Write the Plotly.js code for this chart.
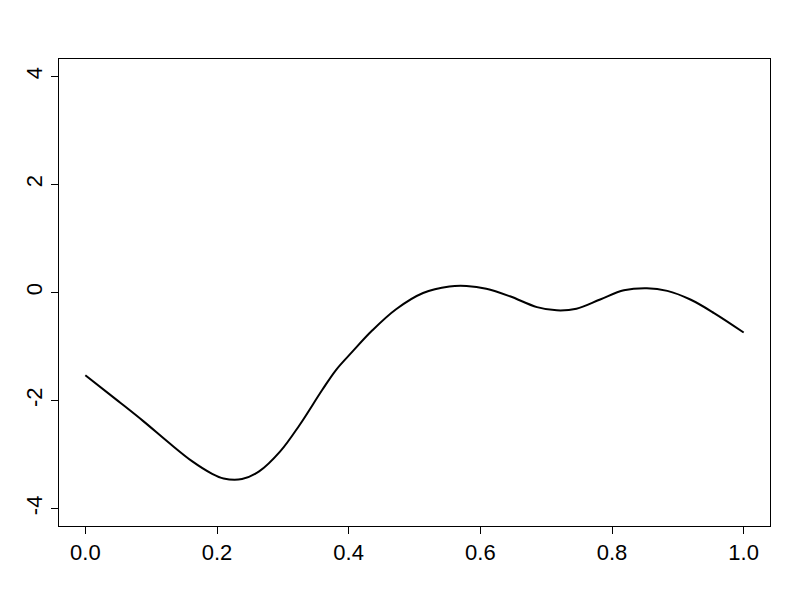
<!DOCTYPE html>
<html>
<head>
<meta charset="utf-8">
<script src="https://cdn.plot.ly/plotly-3.0.1.min.js"></script>
<style>html,body{margin:0;padding:0;background:#fff;}</style>
</head>
<body>
<div id="chart" style="width:800px;height:600px;"></div>
<script>
const xs = [0.0, 0.05, 0.088, 0.127, 0.162, 0.192, 0.21, 0.238, 0.264, 0.296, 0.325, 0.36, 0.381, 0.406, 0.436, 0.472, 0.513, 0.553, 0.579, 0.609, 0.645, 0.686, 0.716, 0.746, 0.782, 0.818, 0.853, 0.884, 0.919, 0.955, 1.0];
const ys = [-1.53, -2.01, -2.38, -2.78, -3.12, -3.35, -3.44, -3.45, -3.31, -2.94, -2.46, -1.80, -1.43, -1.09, -0.70, -0.31, -0.01, 0.11, 0.12, 0.07, -0.07, -0.27, -0.33, -0.30, -0.13, 0.04, 0.08, 0.03, -0.13, -0.38, -0.74];
const xTicks = [0, 0.2, 0.4, 0.6, 0.8, 1.0];
const xTickText = ["0.0", "0.2", "0.4", "0.6", "0.8", "1.0"];
const yTicks = [-4, -2, 0, 2, 4];
const yTickText = ["-4", "-2", "0", "2", "4"];

const trace = {
  x: xs, y: ys, type: 'scatter', mode: 'lines',
  line: {color: '#000', width: 2, shape: 'spline', smoothing: 1},
  hoverinfo: 'skip'
};
const axisCommon = {
  showgrid: false, zeroline: false, showline: true, mirror: true,
  linecolor: '#000', linewidth: 1, ticks: 'outside', ticklen: 7,
  tickcolor: '#000', tickwidth: 1,
  tickfont: {family: 'Liberation Sans, Arial, sans-serif', size: 22, color: '#000'}
};
const layout = {
  width: 800, height: 600,
  margin: {l: 59, r: 30, t: 59, b: 74, pad: 0},
  paper_bgcolor: '#fff', plot_bgcolor: '#fff',
  showlegend: false,
  xaxis: Object.assign({}, axisCommon, {range: [-0.04, 1.04], tickvals: xTicks, ticktext: xTickText}),
  yaxis: Object.assign({}, axisCommon, {range: [-4.32, 4.32], tickvals: yTicks, ticktext: yTickText, tickangle: -90})
};
Plotly.newPlot('chart', [trace], layout, {displayModeBar: false, staticPlot: true});
</script>
</body>
</html>
